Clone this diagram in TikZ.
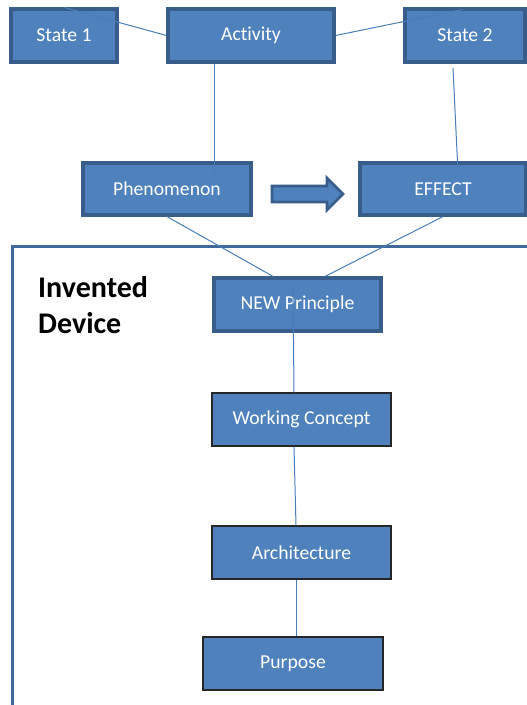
\documentclass[tikz,border=0pt]{standalone}
\usepackage{fontspec}
\setmainfont[Ligatures=NoCommon]{Carlito}
\usetikzlibrary{calc}
\definecolor{boxfill}{HTML}{4F81BD}
\definecolor{boxedge}{HTML}{385D8A}
\definecolor{linkc}{HTML}{4A7EBB}
\definecolor{framec}{HTML}{41699B}
\tikzset{
  topbox/.style={rectangle, fill=boxfill, draw=boxedge, line width=3.2pt, text=white,
    font=\fontsize{19.7}{21}\selectfont, inner sep=0pt},
  lowbox/.style={rectangle, fill=boxfill, draw=black!85, line width=1.3pt, text=white,
    font=\fontsize{19.7}{21}\selectfont, inner sep=0pt},
  link/.style={draw=linkc, line width=1pt},
}
\begin{document}
\begin{tikzpicture}[x=1pt,y=-1pt]
\useasboundingbox (0,0) rectangle (527,705);
\clip (0,0) rectangle (527,705);
\fill[white] (0,0) rectangle (527,705);
% frame
\draw[framec, line width=3pt] (12,246) rectangle (560,740);
\node[anchor=north west, align=left, font=\fontsize{30}{36}\selectfont\bfseries, inner sep=0pt]
  (inv) at (38,276) {Invented\\Device};
% top row
\node[topbox, minimum width=106pt, minimum height=53pt] (s1) at (64,35.5) {State 1};
\node[topbox, minimum width=166pt, minimum height=53pt] (act) at (251,35.5) {Activity};
\node[topbox, minimum width=120pt, minimum height=53pt] (s2) at (465,35.5) {State 2};
% second row
\node[topbox, minimum width=168pt, minimum height=52pt] (phen) at (167,189) {Phenomenon};
\node[topbox, minimum width=166pt, minimum height=52pt] (eff) at (443,189) {EFFECT};
% block arrow
\draw[fill=boxfill, draw=boxedge, line width=2.6pt, line join=miter]
  (272,186) -- (327,186) -- (327,178) -- (343,194) -- (327,210) -- (327,202) -- (272,202) -- cycle;
% lower chain
\node[topbox, minimum width=167pt, minimum height=53pt] (np) at (297.5,304.5) {NEW Principle};
\node[lowbox, minimum width=179pt, minimum height=53pt] (wc) at (301.5,419.5) {Working Concept};
\node[lowbox, minimum width=179pt, minimum height=53pt] (arch) at (301.5,552.5) {Architecture};
\node[lowbox, minimum width=180pt, minimum height=53pt] (pur) at (293,663.5) {Purpose};
% connector end points
\coordinate (phin) at (214,180);
\coordinate (s2a) at (453,68);
\coordinate (efin) at (458,173);
\coordinate (npa) at ($(np.north)+(-24.5,0)$);
\coordinate (npb) at ($(np.north)+(27.5,0)$);
\coordinate (npc) at (293,287);
\coordinate (wcx) at (294,0);
\coordinate (arx) at (296,0);
% connectors
\draw[link] (s1.north) -- (act.west);
\draw[link] (act.east) -- ($(s2.north)+(-2,2)$);
\draw[link] (act.south -| phin) -- (phin);
\draw[link] (s2a) -- (efin);
\draw[link] (phen.south) -- (npa);
\draw[link] (eff.south) -- (npb);
\draw[link] (npc) -- (wc.north -| wcx);
\draw[link] (wc.south -| wcx) -- (arch.north -| arx);
\draw[link] (arch.south -| arx) -- (pur.north -| arx);
\end{tikzpicture}
\end{document}
